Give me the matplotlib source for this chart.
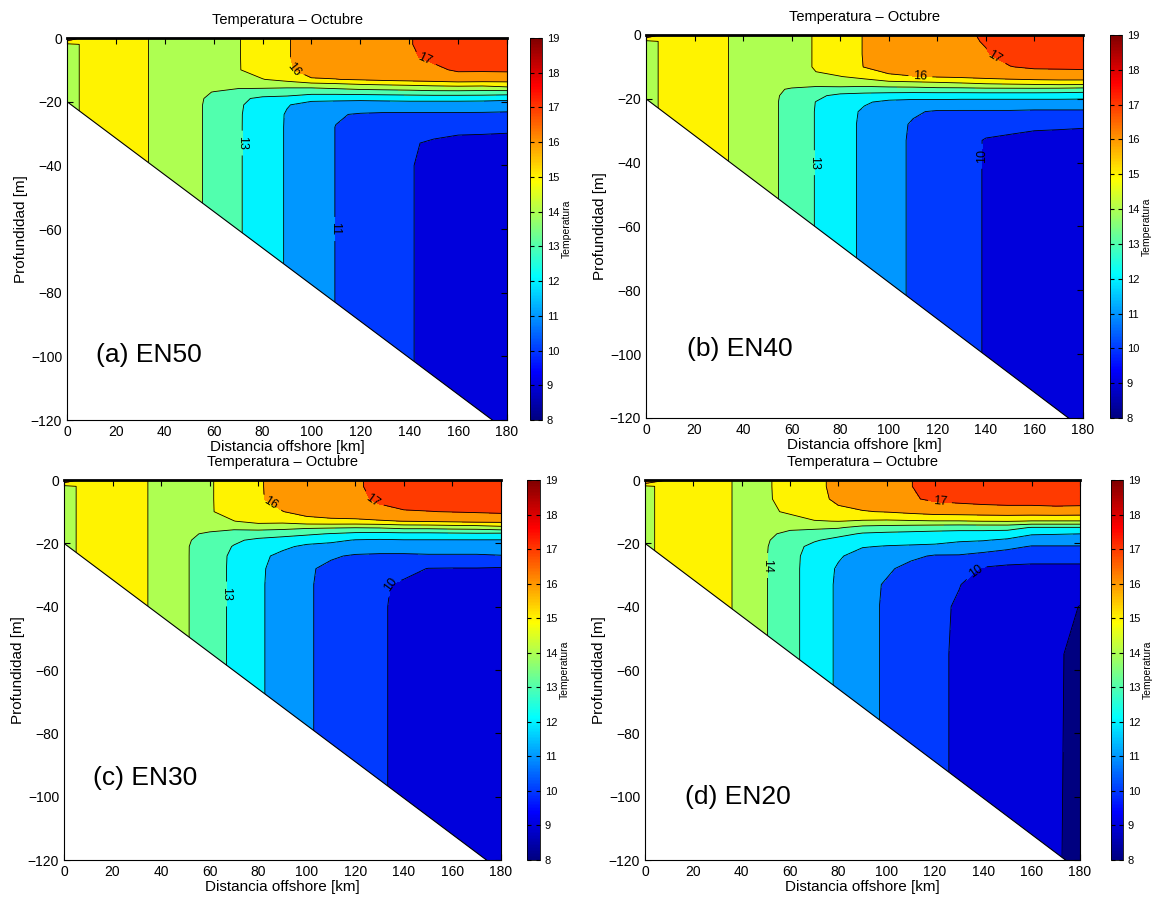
import numpy as np
import matplotlib.pyplot as plt
from matplotlib.colors import Normalize, ListedColormap
from matplotlib.cm import ScalarMappable

plt.rcParams['font.family'] = ['Liberation Sans', 'DejaVu Sans']

# section grid: stations offshore (km) and depth levels (m)
dist_km = [0, 10, 20, 30, 40, 50, 60, 70, 80, 90, 100, 110, 120, 130, 140, 150, 160, 170, 180]
depth_m = [0, -2, -6, -10, -13, -15, -17, -19, -21, -24, -28, -33, -40, -55, -125]

# temperature profile at each station, top to bottom (deg C)
en50 = [
    [17.0] + [14.8] * 14,
    [15.2] * 15,
    [15.4] * 15,
    [15.15] * 15,
    [14.7] * 15,
    [14.3] * 15,
    [14.6, 14.6, 14.6, 14.6, 14.55, 14.4, 13.97, 13.8, 13.75, 13.75, 13.75, 13.75, 13.75, 13.75, 13.75],
    [14.95, 14.95, 14.95, 14.95, 14.85, 14.4, 13.5, 13.2, 13.12, 13.1, 13.1, 13.1, 13.1, 13.1, 13.1],
    [15.45, 15.45, 15.45, 15.4, 14.97, 14.3, 13.55, 12.8, 12.6, 12.52, 12.5, 12.5, 12.5, 12.5, 12.5],
    [15.95, 15.95, 15.95, 15.9, 15.3, 14.3, 13.4, 12.75, 12.05, 11.93, 11.92, 11.92, 11.92, 11.92, 11.92],
    [16.3, 16.3, 16.3, 16.25, 15.95, 14.3, 13.4, 12.25, 11.7, 11.5, 11.45, 11.45, 11.45, 11.45, 11.45],
    [16.5, 16.5, 16.5, 16.4, 15.98, 14.5, 13.4, 12.25, 11.6, 11.08, 10.98, 10.98, 10.98, 10.98, 10.98],
    [16.65, 16.65, 16.65, 16.55, 16.1, 14.7, 13.5, 12.2, 11.6, 10.92, 10.75, 10.7, 10.7, 10.7, 10.7],
    [16.8, 16.8, 16.8, 16.7, 16.25, 14.8, 13.55, 12.25, 11.6, 10.85, 10.5, 10.4, 10.4, 10.4, 10.4],
    [16.95, 16.95, 16.9, 16.8, 16.35, 14.9, 13.6, 12.3, 11.6, 10.85, 10.3, 10.08, 10.05, 10.05, 10.05],
    [17.3, 17.3, 17.15, 16.85, 16.45, 15.02, 13.7, 12.3, 11.6, 10.85, 10.3, 9.9, 9.8, 9.8, 9.8],
    [17.45, 17.45, 17.35, 17.1, 16.6, 15.1, 13.7, 12.3, 11.6, 10.85, 10.25, 9.75, 9.65, 9.65, 9.65],
    [17.5, 17.5, 17.4, 17.1, 16.55, 15.05, 13.65, 12.3, 11.55, 10.85, 10.25, 9.7, 9.55, 9.5, 9.5],
    [17.55, 17.55, 17.45, 17.15, 16.45, 15.3, 13.6, 12.2, 11.55, 10.8, 10.25, 9.6, 9.45, 9.4, 9.4],
]

en40 = [
    [17.0] + [14.75] * 14,
    [15.25] * 15,
    [15.4] * 15,
    [15.2] * 15,
    [14.7] * 15,
    [14.25] * 15,
    [14.75, 14.75, 14.75, 14.75, 14.7, 14.4, 13.9, 13.75, 13.7, 13.7, 13.7, 13.7, 13.7, 13.7, 13.7],
    [15.05, 15.05, 15.05, 15.05, 14.95, 14.4, 13.7, 13.2, 12.98, 12.95, 12.95, 12.95, 12.95, 12.95, 12.95],
    [15.55, 15.55, 15.55, 15.5, 14.98, 14.55, 13.65, 12.75, 12.5, 12.42, 12.4, 12.4, 12.4, 12.4, 12.4],
    [16.05, 16.05, 16.05, 16.03, 15.3, 14.5, 13.6, 12.6, 12.1, 11.85, 11.8, 11.8, 11.8, 11.8, 11.8],
    [16.3, 16.3, 16.3, 16.25, 15.9, 14.7, 13.6, 12.5, 11.8, 11.4, 11.3, 11.3, 11.3, 11.3, 11.3],
    [16.5, 16.5, 16.5, 16.4, 15.98, 14.8, 13.6, 12.45, 11.7, 11.1, 10.92, 10.88, 10.88, 10.88, 10.88],
    [16.65, 16.65, 16.65, 16.55, 16.1, 14.9, 13.7, 12.4, 11.75, 10.9, 10.6, 10.55, 10.55, 10.55, 10.55],
    [16.85, 16.85, 16.8, 16.7, 16.2, 15.02, 13.7, 12.4, 11.7, 10.9, 10.4, 10.27, 10.25, 10.25, 10.25],
    [17.1, 17.05, 16.95, 16.8, 16.35, 15.2, 13.75, 12.4, 11.7, 10.9, 10.3, 9.95, 9.95, 9.95, 9.95],
    [17.35, 17.35, 17.25, 16.98, 16.5, 15.3, 13.75, 12.4, 11.7, 10.9, 10.25, 9.85, 9.8, 9.8, 9.8],
    [17.45, 17.45, 17.35, 17.1, 16.6, 15.4, 13.75, 12.4, 11.7, 10.85, 10.2, 9.7, 9.65, 9.65, 9.65],
    [17.5, 17.5, 17.4, 17.12, 16.6, 15.5, 13.7, 12.4, 11.7, 10.85, 10.2, 9.6, 9.5, 9.5, 9.5],
    [17.55, 17.55, 17.45, 17.15, 16.6, 15.5, 13.6, 12.35, 11.7, 10.85, 10.15, 9.55, 9.42, 9.4, 9.4],
]

en30 = [
    [17.0] + [14.75] * 14,
    [15.25] * 15,
    [15.45] * 15,
    [15.25] * 15,
    [14.7] * 15,
    [14.55, 14.55, 14.55, 14.55, 14.5, 14.4, 14.25, 14.15, 14.1, 14.1, 14.1, 14.1, 14.1, 14.1, 14.1],
    [14.9, 14.9, 14.9, 14.9, 14.85, 14.45, 13.8, 13.55, 13.47, 13.45, 13.45, 13.45, 13.45, 13.45, 13.45],
    [15.5, 15.5, 15.5, 15.45, 14.98, 14.25, 13.55, 13.15, 12.95, 12.82, 12.8, 12.8, 12.8, 12.8, 12.8],
    [15.9, 15.9, 15.9, 15.85, 15.35, 14.35, 13.5, 12.8, 12.45, 12.25, 12.17, 12.15, 12.15, 12.15, 12.15],
    [16.35, 16.35, 16.3, 15.98, 15.3, 14.3, 13.35, 12.6, 12.2, 11.75, 11.62, 11.6, 11.6, 11.6, 11.6],
    [16.55, 16.55, 16.5, 16.3, 15.7, 14.15, 13.15, 12.4, 11.8, 11.3, 11.12, 11.1, 11.1, 11.1, 11.1],
    [16.7, 16.7, 16.65, 16.45, 15.8, 14.1, 12.95, 12.2, 11.7, 11.1, 10.8, 10.75, 10.75, 10.75, 10.75],
    [16.9, 16.9, 16.85, 16.6, 15.8, 14.05, 12.75, 11.95, 11.5, 10.9, 10.55, 10.45, 10.45, 10.45, 10.45],
    [17.2, 17.2, 17.1, 16.85, 15.9, 14.1, 12.7, 11.9, 11.45, 10.85, 10.35, 10.12, 10.1, 10.1, 10.1],
    [17.4, 17.4, 17.3, 16.95, 16.02, 14.3, 12.75, 11.95, 11.45, 10.85, 10.3, 9.85, 9.8, 9.8, 9.8],
    [17.5, 17.5, 17.4, 16.98, 16.1, 14.3, 12.75, 11.95, 11.45, 10.9, 9.97, 9.7, 9.65, 9.65, 9.65],
    [17.55, 17.55, 17.45, 17.03, 16.2, 14.4, 12.8, 11.95, 11.45, 10.9, 9.95, 9.55, 9.5, 9.5, 9.5],
    [17.6, 17.6, 17.5, 17.08, 16.3, 14.45, 12.85, 11.95, 11.45, 10.9, 9.95, 9.45, 9.4, 9.4, 9.4],
    [17.6, 17.6, 17.5, 17.15, 16.3, 14.7, 12.8, 11.95, 11.55, 10.95, 9.9, 9.35, 9.3, 9.3, 9.3],
]

en20 = [
    [17.5] + [14.8] * 14,
    [15.9] + [15.3] * 14,
    [15.5] * 15,
    [15.3] * 15,
    [14.8] * 15,
    [14.85, 14.85, 14.85, 14.8, 14.6, 14.4, 14.25, 14.12, 14.07, 14.05, 14.05, 14.05, 14.05, 14.05, 14.05],
    [15.45, 15.45, 15.4, 15.15, 14.6, 14.25, 13.7, 13.45, 13.35, 13.3, 13.3, 13.3, 13.3, 13.3, 13.3],
    [15.8, 15.8, 15.75, 15.5, 14.95, 14.2, 13.5, 13.1, 12.75, 12.6, 12.55, 12.55, 12.55, 12.55, 12.55],
    [16.2, 16.2, 16.15, 15.85, 15.02, 14.1, 13.3, 12.7, 12.4, 12.1, 11.9, 11.85, 11.85, 11.85, 11.85],
    [16.5, 16.5, 16.45, 15.95, 14.9, 13.7, 12.9, 12.45, 12.05, 11.65, 11.4, 11.35, 11.35, 11.35, 11.35],
    [16.75, 16.75, 16.7, 16.05, 14.85, 13.6, 12.8, 12.35, 11.95, 11.5, 11.15, 10.9, 10.85, 10.85, 10.85],
    [16.98, 16.98, 16.9, 16.25, 14.9, 13.5, 12.75, 12.3, 11.9, 11.2, 10.7, 10.5, 10.5, 10.5, 10.5],
    [17.3, 17.3, 17.15, 16.45, 14.95, 13.4, 12.7, 12.25, 11.85, 10.9, 10.45, 10.25, 10.2, 10.2, 10.2],
    [17.45, 17.45, 17.25, 16.5, 14.95, 13.35, 12.65, 12.1, 11.7, 10.9, 10.4, 10.03, 9.9, 9.85, 9.85],
    [17.55, 17.55, 17.35, 16.55, 15.02, 13.35, 12.65, 12.05, 11.5, 10.7, 9.9, 9.65, 9.6, 9.6, 9.6],
    [17.6, 17.6, 17.4, 16.6, 15.05, 13.35, 12.55, 11.85, 11.2, 10.6, 9.75, 9.5, 9.45, 9.45, 9.45],
    [17.6, 17.6, 17.4, 16.6, 14.95, 12.95, 12.1, 11.45, 10.95, 10.5, 9.7, 9.35, 9.3, 9.3, 9.3],
    [17.65, 17.65, 17.45, 16.65, 14.95, 12.95, 12.05, 11.45, 10.95, 10.5, 9.7, 9.35, 9.25, 9.15, 9.1],
    [17.65, 17.65, 17.45, 16.6, 14.95, 12.95, 12.0, 11.45, 10.95, 10.5, 9.7, 9.35, 8.98, 8.7, 8.7],
]

panel_names = ['(a) EN50', '(b) EN40', '(c) EN30', '(d) EN20']
levels = list(range(8, 20))
shelf_x = [0, 174]
shelf_z = [-20, -120]

# labelled isotherms per panel and a point near where each label sits
label_levels = [[16, 17, 13, 11], [16, 17, 13, 10], [16, 17, 13, 10], [17, 14, 10]]
label_spots = [
    [(92, -10), (146, -7.5), (71.5, -33), (110, -60)],
    [(113, -13.2), (143, -8), (69.5, -40), (138, -38)],
    [(84, -9), (126, -8.5), (66.5, -36), (133, -33)],
    [(122, -7.5), (50.7, -27), (136, -28)],
]

# pixel boxes (left, right, top, bottom, cbar left, cbar right)
W, H = 1155, 899
boxes = [(67, 507, 38, 420, 530, 542),
         (646, 1083, 35, 418, 1110, 1122),
         (64, 501, 480, 860, 527, 540),
         (645, 1080, 480, 860, 1111, 1123)]
name_pos = [(12, -99.5), (17, -98.5), (12, -94), (16.5, -100)]


# MATLAB style jet
def jet_rgb(v):
    v = np.asarray(v, dtype=float)
    r = np.clip(1.5 - np.abs(4 * v - 3), 0, 1)
    g = np.clip(1.5 - np.abs(4 * v - 2), 0, 1)
    b = np.clip(1.5 - np.abs(4 * v - 1), 0, 1)
    return np.stack([r, g, b], axis=-1)


mjet = ListedColormap(jet_rgb(np.linspace(0, 1, 256)))
band_colors = [tuple(jet_rgb((v - 8) / 11.0)) for v in levels[:-1]]

fig = plt.figure(figsize=(W / 100, H / 100), dpi=100)

for k, data in enumerate([en50, en40, en30, en20]):
    l, r, t, b, cl, cr = boxes[k]
    ax = fig.add_axes([l / W, 1 - b / H, (r - l) / W, (b - t) / H])
    cax = fig.add_axes([cl / W, 1 - b / H, (cr - cl) / W, (b - t) / H])

    T = np.array(data).T
    X, Z = np.meshgrid(dist_km, depth_m)
    ax.contourf(X, Z, T, levels=levels, colors=band_colors, zorder=1)
    plain = [v for v in levels if v not in label_levels[k]]
    ax.contour(X, Z, T, levels=plain, colors='k', linewidths=0.6, zorder=2)
    # labelled isotherms drawn one by one so the label breaks its own line
    for lev, spot in zip(label_levels[k], label_spots[k]):
        cs = ax.contour(X, Z, T, levels=[lev], colors='k', linewidths=0.6, zorder=2)
        ax.clabel(cs, manual=[spot], inline=True, fontsize=9, fmt='%d')

    ax.fill_between(shelf_x, shelf_z, -130, color='white', lw=0, zorder=2.2)
    ax.plot(shelf_x, shelf_z, color='k', lw=0.8, zorder=2.3)

    ax.set_xlim(0, 180)
    ax.set_ylim(-120, 0)
    ax.set_xticks(range(0, 181, 20))
    ax.set_yticks(range(-120, 1, 20))
    ax.tick_params(direction='in', top=True, right=True, length=4, labelsize=10)
    for s in ax.spines.values():
        s.set_linewidth(0.8)
        s.set_zorder(5)
    ax.spines['top'].set_linewidth(2)
    ax.set_title('Temperatura – Octubre', fontsize=10.5, pad=10)
    ax.set_xlabel('Distancia offshore [km]', fontsize=11, labelpad=1)
    ax.set_ylabel('Profundidad [m]', fontsize=11, labelpad=2)
    ax.text(name_pos[k][0], name_pos[k][1], panel_names[k], fontsize=19,
            ha='left', va='center', zorder=5)

    sm = ScalarMappable(norm=Normalize(8, 19), cmap=mjet)
    cb = fig.colorbar(sm, cax=cax, ticks=levels)
    cb.ax.tick_params(labelsize=8, direction='in', length=3, left=True, right=True)
    cb.set_label('Temperatura', fontsize=7.5, labelpad=2)
    cb.outline.set_linewidth(0.6)

fig.savefig('out.png', dpi=100)
